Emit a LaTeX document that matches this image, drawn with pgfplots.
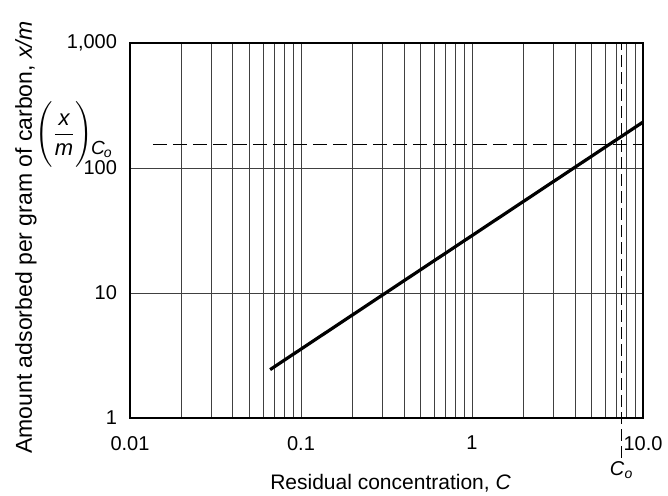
\documentclass[border=0pt]{standalone}
\usepackage{fontspec}
\setmainfont{Liberation Sans}
\usepackage{amsmath}
\usepackage{pgfplots}
\pgfplotsset{compat=1.18}
\begin{document}
\begin{tikzpicture}
\useasboundingbox (-65pt,-38.5pt) rectangle (269pt,209pt);
\begin{loglogaxis}[
  at={(0,0)}, anchor=south west,
  width=256.5pt, height=187.5pt, scale only axis,
  xmin=0.01, xmax=10, ymin=1, ymax=1000,
  xtick={0.01,0.1,1,10}, xticklabels={0.01,0.1,1,10.0},
  ytick={1,10,100,1000}, yticklabels={1,10,100,{1,000}},
  minor xtick={0.02,0.03,0.04,0.05,0.06,0.07,0.08,0.09,0.2,0.3,0.4,0.5,0.6,0.7,0.8,0.9,2,3,4,5,6,7,8,9},
  minor ytick={},
  xmajorgrids, xminorgrids, ymajorgrids,
  major tick length=0pt, minor tick length=0pt,
  grid style={black!75, line width=0.45pt},
  minor grid style={black!75, line width=0.45pt},
  axis line style={line width=0.9pt},
  tick label style={font=\fontsize{10}{12}\selectfont},
  xticklabel style={yshift=-5.5pt},
  yticklabel style={xshift=-3pt},
  xlabel={Residual concentration, \textit{C}},
  ylabel={Amount adsorbed per gram of carbon, \textit{x/m}},
  xlabel style={at={(axis description cs:0.508,-0.173)}, anchor=center, font=\fontsize{10.5}{12}\selectfont},
  ylabel style={at={(axis description cs:-0.2027,0.481)}, anchor=center, font=\fontsize{11.5}{13}\selectfont},
  clip=false,
]
\addplot[black, line width=0.7pt, dash pattern=on 7pt off 3pt] coordinates {(0.0136,155) (10,155)};
\addplot[black, line width=0.7pt, dash pattern=on 6pt off 2.5pt] coordinates {(7.5,0.48) (7.5,1000)};
\addplot[black, line width=1.6pt] coordinates {(0.066,2.44) (10,233)};
\node[anchor=east, inner sep=0pt, font=\fontsize{11}{13}\selectfont] at (axis description cs:-0.035,0.755) {$\Biggl(\dfrac{\textit{x}}{\textit{m}}\Biggr)$\kern-1pt\raisebox{-7pt}{\fontsize{9.5}{11}\selectfont\textit{C}\kern-0.5pt\raisebox{-1.5pt}{\fontsize{7}{8}\selectfont\textit{o}}}};
\node[inner sep=0pt, yshift=-26pt] at (axis cs:7.5,1) {\textit{C}\textsubscript{\textit{o}}};
\end{loglogaxis}
\end{tikzpicture}
\end{document}
